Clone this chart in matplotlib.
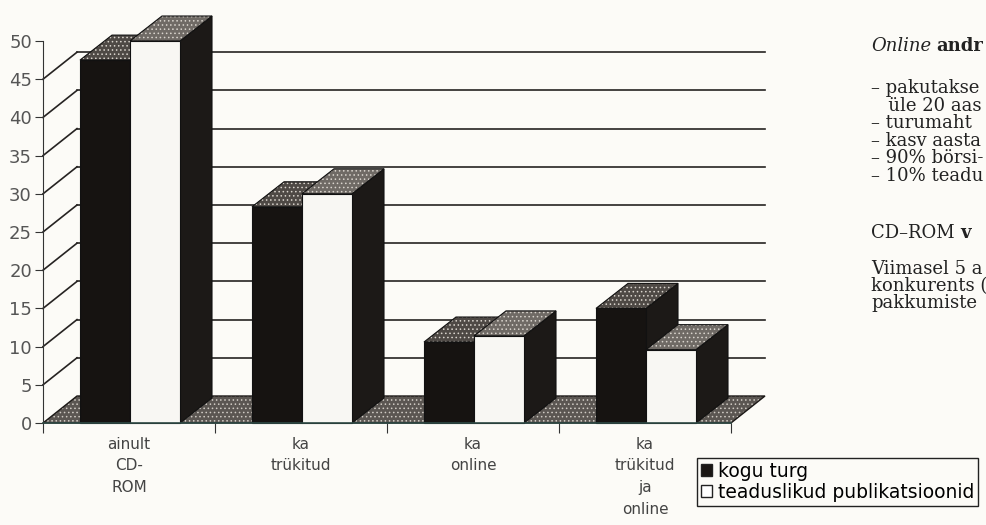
import matplotlib
matplotlib.use("Agg")
import matplotlib.pyplot as plt
from matplotlib.patches import Polygon, Patch

# data
categories = ["ainult\nCD-\nROM", "ka\ntrükitud", "ka\nonline", "ka\ntrükitud\nja\nonline"]
kogu_turg = [47.5, 28.3, 10.6, 15.0]
teaduslikud = [50.0, 30.0, 11.4, 9.6]
series_names = ["kogu turg", "teaduslikud publikatsioonid"]
y_ticks = list(range(0, 55, 5))

side_heading = ["Online", "andr"]
side_bullets = ["– pakutakse", "   üle 20 aas", "– turumaht", "– kasv aasta",
                "– 90% börsi-", "– 10% teadu"]
side_heading2 = ["CD–ROM", "v"]
side_para = ["Viimasel 5 a", "konkurents (", "pakkumiste"]

W, H = 986, 525
BG = "#fcfbf7"
plt.rcParams["hatch.linewidth"] = 0.6

fig = plt.figure(figsize=(W / 100, H / 100), dpi=100)
fig.patch.set_facecolor(BG)

# front plane of the 3-D box (pixels): x 43..731, value 0 at y=423, 50 at y=41
ax = fig.add_axes([43 / W, (H - 423) / H, 688 / W, 382 / H])
ax.set_xlim(0, len(categories))
ax.set_ylim(0, 50)
ax.patch.set_visible(False)

px_x = 688 / len(categories)
px_y = 382 / 50


def depth(dx_px, dy_px):
    return dx_px / px_x, dy_px / px_y


wall_dx, wall_dy = depth(34, 27)
bar_dx, bar_dy = depth(32, 25)
n = len(categories)

# floor
floor = [(0, 0), (n, 0), (n + wall_dx, wall_dy), (wall_dx, wall_dy)]
ax.add_patch(Polygon(floor, closed=True, facecolor="#5b5652", edgecolor="#cfcac3",
                     hatch="....", lw=0, clip_on=False, zorder=1))
ax.add_patch(Polygon(floor, closed=True, fill=False, edgecolor="#1b1816", lw=1,
                     clip_on=False, zorder=1.1))

# back wall grid and side wall diagonals
for v in y_ticks[1:-1]:
    ax.plot([wall_dx, n + wall_dx], [v + wall_dy] * 2, color="#262322", lw=1.2,
            clip_on=False, zorder=0.5)
    ax.plot([0, wall_dx], [v, v + wall_dy], color="#262322", lw=1.2,
            clip_on=False, zorder=0.5)


def draw_bar(x0, x1, v, front, top, side, z, dots="#d8d3cc"):
    side_pts = [(x1, 0), (x1 + bar_dx, bar_dy), (x1 + bar_dx, v + bar_dy), (x1, v)]
    top_pts = [(x0, v), (x1, v), (x1 + bar_dx, v + bar_dy), (x0 + bar_dx, v + bar_dy)]
    front_pts = [(x0, 0), (x1, 0), (x1, v), (x0, v)]
    ax.add_patch(Polygon(side_pts, facecolor=side, edgecolor="#111", lw=0.8,
                         clip_on=False, zorder=z))
    ax.add_patch(Polygon(top_pts, facecolor=top, edgecolor=dots, hatch="....",
                         lw=0, clip_on=False, zorder=z + 0.01))
    ax.add_patch(Polygon(top_pts, fill=False, edgecolor="#111", lw=0.8,
                         clip_on=False, zorder=z + 0.02))
    ax.add_patch(Polygon(front_pts, facecolor=front, edgecolor="#111", lw=0.8,
                         clip_on=False, zorder=z + 0.03))


gap = 37 / px_x
bw = 50 / px_x
for i in range(n):
    x0 = i + gap
    draw_bar(x0, x0 + bw, kogu_turg[i], "#161311", "#4e4945", "#1c1917", 2 + i)
    draw_bar(x0 + bw, x0 + 2 * bw, teaduslikud[i], "#f8f7f3", "#6f6a65", "#1c1917",
             2.5 + i)

# axes
for s in ["top", "right"]:
    ax.spines[s].set_visible(False)
ax.spines["left"].set_color("#333")
ax.spines["bottom"].set_color("#2f4a45")
ax.spines["bottom"].set_linewidth(1.2)
ax.spines["bottom"].set_zorder(10)
ax.set_yticks(y_ticks)
ax.tick_params(axis="y", direction="out", length=6, color="#333", labelsize=13,
               labelcolor="#555", pad=2)
ax.set_xticks(range(n + 1))
ax.set_xticklabels([])
ax.set_xticks([i + 0.5 for i in range(n)], minor=True)
ax.set_xticklabels(categories, minor=True, fontsize=11, color="#444", linespacing=1.55)
ax.tick_params(axis="x", which="major", direction="out", length=7, color="#333")
ax.tick_params(axis="x", which="minor", length=0, pad=10)

fig.legend(handles=[Patch(facecolor="#1a1614", edgecolor="#222"),
                    Patch(facecolor="white", edgecolor="#222")],
           labels=series_names, loc="upper left",
           bbox_to_anchor=(697 / W, 1 - 458 / H), frameon=True, fancybox=False,
           edgecolor="#222", facecolor=BG, framealpha=1, fontsize=13.5,
           handlelength=0.6, handleheight=0.6, handletextpad=0.3, borderpad=0.2,
           labelspacing=0.12, borderaxespad=0)

# side text from the page
serif = "DejaVu Serif"
tx = 871 / W
fs = 13


def two_style(y, first, second, st1, wt2):
    t = fig.text(tx, 1 - y / H, first, family=serif, size=fs, style=st1,
                 va="center", color="#222")
    ax.annotate(second, xy=(1, 0.5), xycoords=t, xytext=(4, 0),
                textcoords="offset points", va="center", family=serif, size=fs,
                weight=wt2, color="#222", annotation_clip=False)


two_style(46, side_heading[0], side_heading[1], "italic", "bold")
for k, line in enumerate(side_bullets):
    fig.text(tx, 1 - (88 + 17.6 * k) / H, line, family=serif, size=fs,
             va="center", color="#222")
two_style(233, side_heading2[0], side_heading2[1], "normal", "bold")
for k, line in enumerate(side_para):
    fig.text(tx, 1 - (269 + 17 * k) / H, line, family=serif, size=fs,
             va="center", color="#222")

fig.savefig("out.png", dpi=100, facecolor=BG)
